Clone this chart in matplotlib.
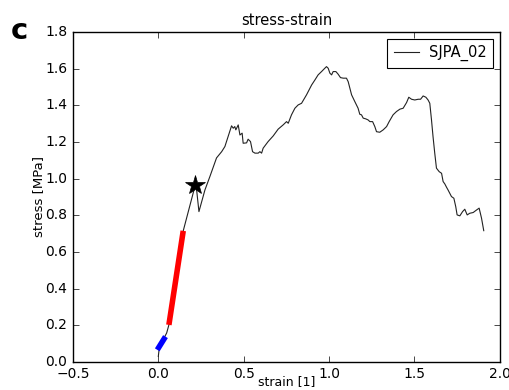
import matplotlib
matplotlib.use("Agg")
import matplotlib.pyplot as plt

plt.style.use("classic")

# Measured stress-strain curve (strain [1], stress [MPa])
strain = [0.0, 0.005, 0.039, 0.049, 0.062, 0.146, 0.220, 0.238, 0.273, 0.302,
          0.341, 0.371, 0.390, 0.429, 0.439, 0.448, 0.454, 0.468, 0.478, 0.491,
          0.497, 0.517, 0.526, 0.540, 0.552, 0.566, 0.585, 0.595, 0.605, 0.614,
          0.643, 0.673, 0.702, 0.731, 0.751, 0.761, 0.780, 0.800, 0.819, 0.839,
          0.868, 0.898, 0.917, 0.936, 0.956, 0.975, 0.985, 0.995, 1.005, 1.015,
          1.024, 1.040, 1.053, 1.067, 1.083, 1.102, 1.112, 1.122, 1.132, 1.151,
          1.170, 1.180, 1.190, 1.200, 1.215, 1.229, 1.239, 1.255, 1.268, 1.278,
          1.297, 1.317, 1.337, 1.352, 1.375, 1.395, 1.415, 1.434, 1.454, 1.467,
          1.483, 1.502, 1.522, 1.536, 1.551, 1.567, 1.580, 1.590, 1.600, 1.609,
          1.619, 1.629, 1.645, 1.659, 1.668, 1.678, 1.688, 1.697, 1.707, 1.717,
          1.731, 1.742, 1.750, 1.766, 1.782, 1.795, 1.809, 1.824, 1.844, 1.864,
          1.879, 1.893, 1.906]
stress = [0.030, 0.070, 0.140, 0.158, 0.202, 0.715, 0.977, 0.820, 0.938, 1.011,
          1.113, 1.147, 1.175, 1.288, 1.275, 1.284, 1.266, 1.293, 1.238, 1.248,
          1.193, 1.195, 1.215, 1.202, 1.147, 1.139, 1.139, 1.147, 1.139, 1.166,
          1.202, 1.233, 1.270, 1.293, 1.311, 1.302, 1.348, 1.384, 1.402, 1.411,
          1.457, 1.511, 1.538, 1.566, 1.584, 1.602, 1.611, 1.602, 1.575, 1.566,
          1.584, 1.584, 1.570, 1.551, 1.548, 1.548, 1.529, 1.493, 1.457, 1.420,
          1.384, 1.351, 1.348, 1.330, 1.326, 1.320, 1.311, 1.311, 1.284, 1.256,
          1.253, 1.266, 1.284, 1.311, 1.348, 1.366, 1.379, 1.384, 1.415, 1.444,
          1.433, 1.429, 1.433, 1.433, 1.451, 1.444, 1.429, 1.411, 1.320, 1.229,
          1.139, 1.057, 1.038, 1.029, 0.984, 0.971, 0.953, 0.938, 0.920, 0.902,
          0.893, 0.847, 0.802, 0.797, 0.820, 0.833, 0.802, 0.811, 0.815, 0.829,
          0.839, 0.784, 0.716]

# Fitted segments: initial seating (blue) and linear elastic range (red)
seat_strain = [-0.006, 0.042]
seat_stress = [0.066, 0.138]
elastic_strain = [0.062, 0.146]
elastic_stress = [0.202, 0.715]

# Yield point marker
yield_strain = [0.215]
yield_stress = [0.966]

series_label = "SJPA_02"
x_ticks = [-0.5, 0.0, 0.5, 1.0, 1.5, 2.0]
y_ticks = [0.0, 0.2, 0.4, 0.6, 0.8, 1.0, 1.2, 1.4, 1.6, 1.8]

fig = plt.figure(figsize=(5.1, 3.9), dpi=100, facecolor="white")
ax = fig.add_axes([0.143, 0.072, 0.837, 0.846])

ax.plot(strain, stress, color="#222222", linewidth=0.8, label=series_label)
ax.plot(seat_strain, seat_stress, color="blue", linewidth=4, solid_capstyle="butt")
ax.plot(elastic_strain, elastic_stress, color="red", linewidth=4, solid_capstyle="butt")
ax.plot(yield_strain, yield_stress, marker="*", color="black", markersize=15,
        linestyle="none")

ax.set_xlim(-0.5, 2.0)
ax.set_ylim(0.0, 1.8)
ax.set_xticks(x_ticks)
ax.set_yticks(y_ticks)
ax.tick_params(labelsize=10)
ax.set_title("stress-strain", fontsize=10.5, pad=5)
ax.set_xlabel("strain [1]", fontsize=9, labelpad=-4.5)
ax.set_ylabel("stress [MPa]", fontsize=9.5, labelpad=0)

leg = ax.legend(loc="upper right", fontsize=10.5, handlelength=1.7,
                handletextpad=0.7, numpoints=1, borderpad=0.45,
                borderaxespad=0.45)
leg.get_frame().set_linewidth(0.8)

fig.text(0.022, 0.9, "c", fontsize=21, fontweight="bold")

fig.savefig("out.png", dpi=100, facecolor="white")
